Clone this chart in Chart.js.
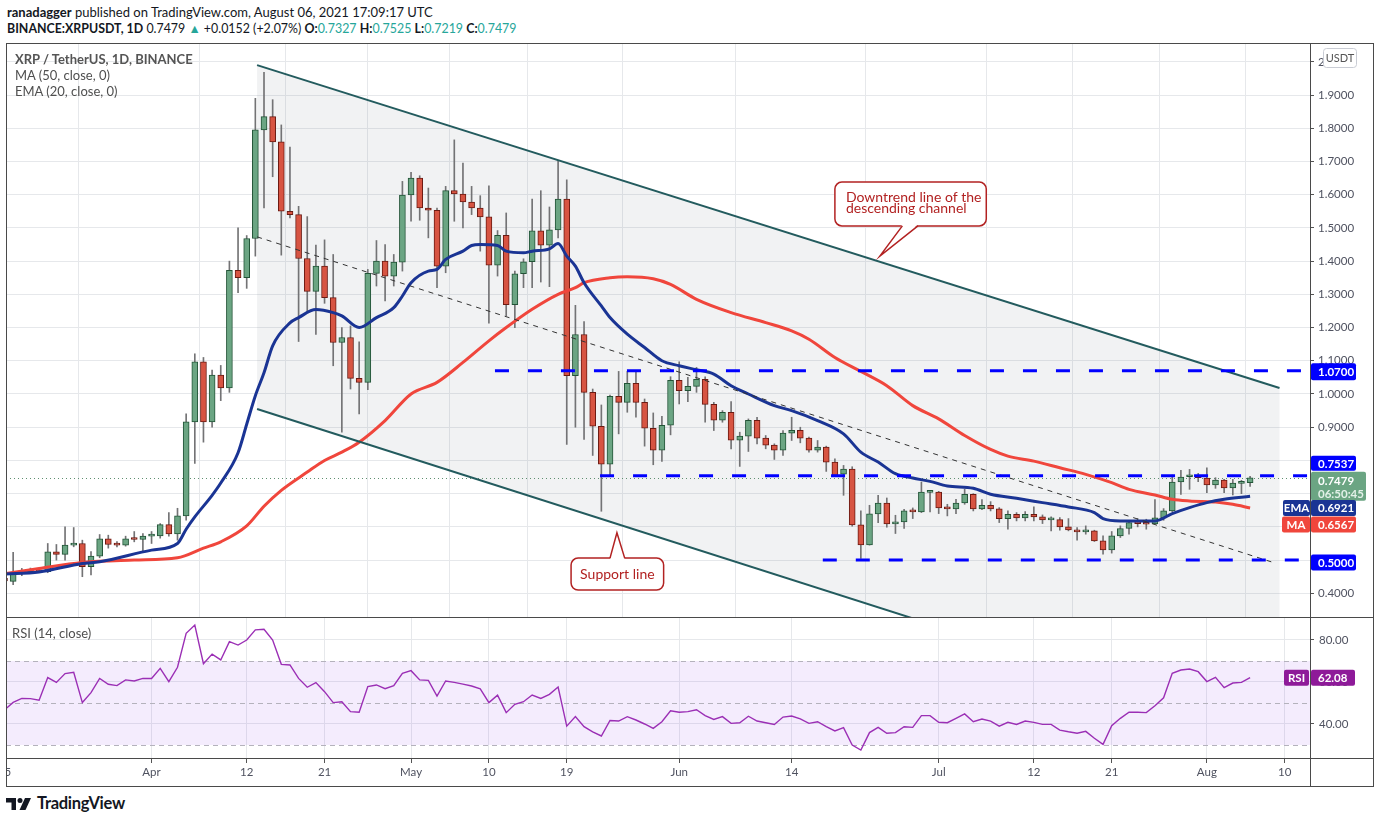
<!DOCTYPE html>
<html>
<head>
<meta charset="utf-8">
<title>XRP / TetherUS, 1D</title>
<script src="https://cdn.jsdelivr.net/npm/chart.js@4.4.1/dist/chart.umd.min.js"></script>
<style>
  html, body { margin: 0; padding: 0; background: #fff; }
  body { width: 1376px; height: 823px; overflow: hidden; position: relative; font-family: Lato, "Open Sans", sans-serif; color: #131722; }
  .txt { position: absolute; white-space: nowrap; z-index: 3; }
  #head1 { left: 7px; top: 4px; font-size: 13px; }
  #head2 { left: 7px; top: 21px; font-size: 12.4px; }
  .up { color: #26a69a; }
  .legend { left: 15px; font-size: 13px; color: #4f4f4f; }
  #pricebox { position: absolute; left: 6px; top: 43px; width: 1368px; height: 574px; }
  #rsibox { position: absolute; left: 6px; top: 617px; width: 1368px; height: 170px; }
  #frame { position: absolute; left: 0; top: 0; z-index: 4; pointer-events: none; }
  #logo { position: absolute; left: 6px; top: 796px; height: 18px; }
  #logo span { position: absolute; left: 31px; top: -3px; font-size: 16.5px; font-weight: 700; color: #131722; letter-spacing: -0.3px; }
</style>
</head>
<body>
<div id="head1" class="txt"><b>ranadagger</b> published on TradingView.com, August 06, 2021 17:09:17 UTC</div>
<div id="head2" class="txt"><b>BINANCE:XRPUSDT, 1D</b> 0.7479 <span class="up">&#9650;</span> +0.0152 (+2.07%) <b>O:</b><span class="up">0.7327</span> <b>H:</b><span class="up">0.7525</span> <b>L:</b><span class="up">0.7219</span> <b>C:</b><span class="up">0.7479</span></div>

<div id="pricebox"><canvas id="price"></canvas></div>
<div id="rsibox"><canvas id="rsi"></canvas></div>

<div class="txt legend" style="top:51px;font-weight:700;color:#555">XRP / TetherUS, 1D, BINANCE</div>
<div class="txt legend" style="top:67px">MA (50, close, 0)</div>
<div class="txt legend" style="top:83px">EMA (20, close, 0)</div>
<div class="txt legend" style="left:12px;top:625px">RSI (14, close)</div>

<svg id="frame" width="1376" height="823">
  <g stroke="#4a4a4a" stroke-width="1" fill="none" shape-rendering="crispEdges">
    <rect x="6.5" y="43.5" width="1367" height="743"/>
    <line x1="6" y1="617.5" x2="1374" y2="617.5"/>
    <line x1="6" y1="758.5" x2="1374" y2="758.5"/>
    <line x1="1310.5" y1="43" x2="1310.5" y2="787"/>
  </g>
</svg>

<div id="logo">
  <svg width="26" height="16" viewBox="0 0 26 16">
    <path d="M0 2h10v12H5.5V6.5H0z" fill="#131722"/>
    <circle cx="14" cy="4.5" r="2.5" fill="#131722"/>
    <path d="M19 2h6l-5.5 12h-6z" fill="#131722"/>
  </svg>
  <span>TradingView</span>
</div>

<script>
// daily candles, 15 Mar 2021 (index 0) to 6 Aug 2021 (index 144)
const opens = [
  0.445, 0.436, 0.459, 0.465, 0.467, 0.465, 0.525, 0.517, 0.545, 0.550,
  0.480, 0.512, 0.564, 0.547, 0.545, 0.566, 0.562, 0.572, 0.573, 0.607,
  0.579, 0.633, 0.916, 1.097, 0.916, 1.057, 1.018, 1.372, 1.350, 1.468,
  1.795, 1.835, 1.759, 1.550, 1.540, 1.408, 1.309, 1.385, 1.290, 1.155,
  1.170, 1.047, 1.035, 1.363, 1.400, 1.355, 1.397, 1.599, 1.650, 1.560,
  1.553, 1.385, 1.612, 1.602, 1.578, 1.560, 1.533, 1.388, 1.478, 1.269,
  1.362, 1.398, 1.491, 1.448, 1.494, 1.587, 1.055, 1.179, 1.005, 0.903,
  0.789, 0.993, 0.975, 1.032, 0.975, 0.897, 0.831, 0.906, 1.041, 1.010,
  1.023, 1.044, 0.969, 0.921, 0.945, 0.861, 0.873, 0.921, 0.867, 0.846,
  0.831, 0.882, 0.891, 0.867, 0.831, 0.840, 0.795, 0.759, 0.774, 0.606,
  0.546, 0.639, 0.672, 0.609, 0.615, 0.649, 0.645, 0.704, 0.705, 0.657,
  0.654, 0.672, 0.698, 0.654, 0.665, 0.654, 0.625, 0.638, 0.627, 0.638,
  0.630, 0.621, 0.622, 0.600, 0.591, 0.585, 0.588, 0.558, 0.531, 0.573,
  0.595, 0.613, 0.611, 0.609, 0.627, 0.648, 0.735, 0.751, 0.751, 0.747,
  0.726, 0.741, 0.717, 0.731, 0.7327
];
const highs = [
  0.452, 0.523, 0.475, 0.476, 0.472, 0.550, 0.547, 0.600, 0.598, 0.560,
  0.526, 0.577, 0.575, 0.556, 0.572, 0.586, 0.580, 0.586, 0.610, 0.643,
  0.656, 0.940, 1.121, 1.110, 1.072, 1.086, 1.400, 1.500, 1.477, 1.890,
  1.968, 1.886, 1.810, 1.743, 1.565, 1.534, 1.448, 1.464, 1.420, 1.200,
  1.205, 1.157, 1.375, 1.462, 1.450, 1.420, 1.640, 1.667, 1.657, 1.620,
  1.560, 1.625, 1.765, 1.695, 1.625, 1.597, 1.627, 1.492, 1.545, 1.370,
  1.407, 1.587, 1.612, 1.563, 1.703, 1.645, 1.267, 1.218, 1.015, 0.967,
  0.997, 1.068, 1.068, 1.070, 0.985, 0.943, 0.933, 1.052, 1.097, 1.050,
  1.080, 1.052, 0.975, 0.950, 0.977, 0.885, 0.925, 0.930, 0.875, 0.850,
  0.890, 0.930, 0.900, 0.870, 0.860, 0.843, 0.805, 0.785, 0.781, 0.648,
  0.665, 0.695, 0.687, 0.635, 0.653, 0.657, 0.735, 0.707, 0.707, 0.668,
  0.683, 0.713, 0.700, 0.682, 0.676, 0.658, 0.648, 0.643, 0.646, 0.660,
  0.636, 0.630, 0.628, 0.625, 0.598, 0.603, 0.590, 0.573, 0.586, 0.603,
  0.620, 0.625, 0.623, 0.682, 0.655, 0.756, 0.770, 0.773, 0.761, 0.778,
  0.748, 0.743, 0.743, 0.740, 0.7525
];
const lows = [
  0.430, 0.426, 0.453, 0.462, 0.462, 0.462, 0.500, 0.500, 0.540, 0.450,
  0.455, 0.507, 0.536, 0.540, 0.542, 0.555, 0.523, 0.550, 0.566, 0.572,
  0.560, 0.620, 0.791, 0.855, 0.900, 0.980, 1.005, 1.305, 1.318, 1.415,
  1.560, 1.654, 1.418, 1.530, 1.158, 1.250, 1.179, 1.273, 1.085, 0.885,
  1.015, 0.940, 1.013, 1.325, 1.280, 1.325, 1.370, 1.520, 1.523, 1.470,
  1.320, 1.365, 1.520, 1.500, 1.540, 1.430, 1.213, 1.355, 1.235, 1.200,
  1.320, 1.320, 1.337, 1.323, 1.470, 0.848, 0.900, 0.863, 0.815, 0.647,
  0.755, 0.880, 0.945, 0.930, 0.843, 0.787, 0.797, 0.877, 0.970, 0.977,
  1.005, 0.915, 0.890, 0.915, 0.835, 0.782, 0.827, 0.850, 0.835, 0.803,
  0.815, 0.860, 0.853, 0.825, 0.825, 0.767, 0.752, 0.695, 0.602, 0.505,
  0.545, 0.613, 0.599, 0.580, 0.595, 0.625, 0.643, 0.645, 0.640, 0.633,
  0.640, 0.668, 0.648, 0.652, 0.648, 0.613, 0.593, 0.618, 0.618, 0.618,
  0.610, 0.588, 0.590, 0.588, 0.560, 0.578, 0.556, 0.518, 0.521, 0.568,
  0.578, 0.600, 0.593, 0.608, 0.620, 0.646, 0.698, 0.713, 0.736, 0.703,
  0.716, 0.703, 0.696, 0.700, 0.7219
];
const closes = [
  0.437, 0.459, 0.465, 0.467, 0.465, 0.525, 0.517, 0.545, 0.550, 0.480,
  0.512, 0.564, 0.547, 0.545, 0.564, 0.562, 0.572, 0.573, 0.607, 0.579,
  0.633, 0.916, 1.097, 0.916, 1.057, 1.018, 1.372, 1.350, 1.468, 1.795,
  1.835, 1.759, 1.550, 1.540, 1.408, 1.309, 1.385, 1.290, 1.155, 1.170,
  1.047, 1.035, 1.363, 1.400, 1.355, 1.397, 1.599, 1.650, 1.560, 1.553,
  1.385, 1.612, 1.602, 1.578, 1.560, 1.533, 1.388, 1.478, 1.269, 1.362,
  1.398, 1.491, 1.448, 1.494, 1.587, 1.055, 1.179, 1.005, 0.903, 0.789,
  0.993, 0.975, 1.032, 0.975, 0.897, 0.831, 0.906, 1.041, 1.010, 1.023,
  1.044, 0.969, 0.921, 0.945, 0.861, 0.873, 0.921, 0.867, 0.846, 0.831,
  0.882, 0.891, 0.867, 0.831, 0.840, 0.795, 0.755, 0.774, 0.606, 0.546,
  0.639, 0.672, 0.609, 0.615, 0.648, 0.645, 0.705, 0.706, 0.657, 0.654,
  0.672, 0.698, 0.654, 0.665, 0.654, 0.625, 0.638, 0.627, 0.638, 0.630,
  0.621, 0.623, 0.600, 0.591, 0.585, 0.587, 0.558, 0.531, 0.573, 0.595,
  0.613, 0.610, 0.608, 0.627, 0.648, 0.735, 0.750, 0.753, 0.748, 0.726,
  0.741, 0.717, 0.732, 0.7327, 0.7479
];

// EMA 20 and MA 50 (day index, value)
const emaDays = [0, 4, 9, 11, 17, 20, 21, 22, 24, 25, 27, 28, 29, 30, 31, 33, 34, 36, 38, 39,
  41, 43, 45, 46, 47, 49, 50, 51, 53, 54, 55, 57, 58, 60, 61, 63, 64, 65, 66, 67,
  69, 70, 72, 74, 76, 78, 80, 82, 84, 86, 89, 91, 94, 97, 99, 101, 103, 105, 107, 109,
  112, 114, 117, 120, 123, 126, 127, 129, 131, 133, 135, 137, 139, 141, 144];
const emaValues = [0.458, 0.464, 0.490, 0.495, 0.530, 0.550, 0.593, 0.630, 0.695, 0.732, 0.823, 0.909, 0.995, 1.064, 1.145, 1.214, 1.230, 1.254, 1.245, 1.235,
  1.200, 1.230, 1.260, 1.295, 1.335, 1.370, 1.375, 1.405, 1.430, 1.447, 1.450, 1.447, 1.430, 1.425, 1.430, 1.437, 1.453, 1.415, 1.385, 1.335,
  1.265, 1.230, 1.180, 1.140, 1.100, 1.085, 1.073, 1.060, 1.025, 1.000, 0.965, 0.950, 0.920, 0.880, 0.825, 0.795, 0.760, 0.747, 0.737, 0.723,
  0.716, 0.698, 0.686, 0.673, 0.660, 0.643, 0.625, 0.618, 0.618, 0.618, 0.640, 0.658, 0.673, 0.683, 0.692];
const maDays = [0, 4, 9, 15, 20, 23, 25, 28, 30, 32, 35, 37, 39, 41, 44, 47, 50, 53, 56, 58,
  61, 64, 66, 67, 70, 72, 75, 77, 80, 84, 88, 91, 93, 96, 99, 102, 105, 108, 111, 114,
  116, 119, 122, 125, 128, 130, 133, 135, 137, 140, 142, 144];
const maValues = [0.459, 0.475, 0.493, 0.500, 0.507, 0.536, 0.555, 0.603, 0.662, 0.710, 0.765, 0.800, 0.825, 0.855, 0.920, 1.000, 1.035, 1.095, 1.160, 1.200,
  1.255, 1.300, 1.320, 1.335, 1.350, 1.353, 1.347, 1.330, 1.285, 1.245, 1.215, 1.190, 1.165, 1.110, 1.068, 1.025, 0.965, 0.925, 0.875, 0.833,
  0.813, 0.798, 0.778, 0.758, 0.733, 0.713, 0.696, 0.683, 0.678, 0.675, 0.668, 0.657];

// RSI 14, one value per day
const rsiValues = [
  46.7, 50.3, 52.2, 52.1, 51.3, 62.1, 59.8, 64.0, 64.6, 50.2,
  54.9, 61.7, 58.9, 58.3, 61.0, 60.5, 61.7, 61.7, 66.5, 60.2,
  67.0, 83.2, 87.1, 68.7, 73.3, 70.5, 79.2, 77.6, 80.0, 84.8,
  85.1, 80.0, 68.4, 68.1, 61.7, 57.5, 59.7, 55.4, 50.2, 50.6,
  45.9, 45.6, 57.8, 58.6, 56.8, 58.3, 64.1, 65.4, 61.0, 60.8,
  53.3, 60.5, 59.8, 59.0, 58.1, 56.7, 50.2, 53.7, 45.4, 49.4,
  50.6, 53.8, 52.2, 54.1, 57.6, 39.0, 43.5, 38.7, 36.3, 34.3,
  41.7, 41.4, 43.5, 41.9, 40.0, 37.9, 41.1, 46.3, 45.6, 45.9,
  46.8, 44.0, 42.2, 43.5, 40.3, 40.6, 43.7, 41.4, 40.6, 39.8,
  43.3, 43.8, 42.4, 40.3, 41.1, 38.7, 36.7, 38.3, 30.0, 27.6,
  35.9, 38.4, 35.6, 35.9, 38.7, 38.4, 44.0, 44.0, 40.8, 40.6,
  42.7, 44.8, 41.1, 42.4, 41.4, 39.0, 40.8, 39.8, 41.4, 40.8,
  39.8, 39.8, 37.1, 36.3, 35.6, 36.5, 33.2, 30.3, 39.2, 42.7,
  45.6, 45.6, 45.4, 48.7, 52.5, 64.1, 65.7, 66.2, 64.9, 60.2,
  62.2, 57.3, 59.5, 59.8, 62.08
];

// axis ticks
const tickDays = [0, 17, 28, 37, 47, 56, 65, 78, 91, 108, 119, 128, 139, 148];
const tickLabels = ['15', 'Apr', '12', '21', 'May', '10', '19', 'Jun', '14', 'Jul', '12', '21', 'Aug', '10'];
const priceTicks = [0.4, 0.5, 0.6, 0.7, 0.8, 0.9, 1.0, 1.1, 1.2, 1.3, 1.4, 1.5, 1.6, 1.7, 1.8, 1.9, 2.0];
const priceTickLabels = ['0.4000', '0.5000', '0.6000', '0.7000', '0.8000', '0.9000', '1.0000', '1.1000', '1.2000',
  '1.3000', '1.4000', '1.5000', '1.6000', '1.7000', '1.8000', '1.9000', '2'];
const rsiTicks = [40, 60, 80];

// drawings: [day index, price]
const channelTop = [[29.2, 1.990], [147.4, 1.018]];
const channelBottom = [[29.2, 0.955], [147.4, -0.028]];
const supportLine = [[29.2, 1.473], [146.9, 0.491]];
const levelPrices = [1.07, 0.7537, 0.5];
const levelStarts = [56.7, 68.85, 94.6];

const GREEN = '#6ba583', GREEN_EDGE = '#225437';
const RED = '#d75442', RED_EDGE = '#6b1a12';
const WICK = '#737375';
const EMA_COLOR = '#1a3494', MA_COLOR = '#f0463c';
const LEVEL = '#0000ff', CHANNEL = '#235b5e', CALLOUT = '#b22222';
const GRID = '#e6e8eb', AXIS_TEXT = '#4f5260';
const RSI_COLOR = '#9b2fb5', RSI_BADGE = '#8e1a99';

const xMin = 0.173, xMax = 150.925;

Chart.defaults.font.family = 'Lato, "Open Sans", sans-serif';
Chart.defaults.animation = false;

const isUp = i => closes[i] >= opens[i];

// keep the plot area flush with the canvas edges
function noPad(s) {
  s.paddingTop = 0;
  s.paddingBottom = 0;
  s.paddingLeft = 0;
  s.paddingRight = 0;
}

function badge(ctx, x, yc, w, h, bg, text) {
  ctx.fillStyle = bg;
  ctx.beginPath();
  ctx.roundRect(x, yc - h / 2, w, h, 2);
  ctx.fill();
  ctx.fillStyle = '#fff';
  ctx.font = 'bold 11.5px Lato, "Open Sans", sans-serif';
  ctx.textBaseline = 'middle';
  ctx.textAlign = 'left';
  ctx.fillText(text, x + 7, yc + 0.5);
}

function sideBadge(ctx, xRight, yc, w, h, bg, text) {
  ctx.fillStyle = bg;
  ctx.beginPath();
  ctx.roundRect(xRight - w, yc - h / 2, w, h, 2);
  ctx.fill();
  ctx.fillStyle = '#fff';
  ctx.font = 'bold 11.5px Lato, "Open Sans", sans-serif';
  ctx.textBaseline = 'middle';
  ctx.textAlign = 'center';
  ctx.fillText(text, xRight - w / 2, yc + 0.5);
}

function callout(ctx, box, tip, base, lines, textX, textY, lineH, align) {
  const [x0, y0, x1, y1] = box;
  ctx.save();
  ctx.fillStyle = '#fff';
  ctx.strokeStyle = CALLOUT;
  ctx.lineWidth = 1.5;
  ctx.beginPath();
  ctx.roundRect(x0, y0, x1 - x0, y1 - y0, 7);
  ctx.fill();
  ctx.stroke();
  const by = tip[1] > y1 ? y1 : y0;
  const inset = tip[1] > y1 ? -1.5 : 1.5;
  ctx.beginPath();
  ctx.moveTo(base[0], by + inset);
  ctx.lineTo(tip[0], tip[1]);
  ctx.lineTo(base[1], by + inset);
  ctx.closePath();
  ctx.fill();
  ctx.beginPath();
  ctx.moveTo(base[0], by);
  ctx.lineTo(tip[0], tip[1]);
  ctx.lineTo(base[1], by);
  ctx.stroke();
  ctx.fillStyle = CALLOUT;
  ctx.font = '14px Lato, "Open Sans", sans-serif';
  ctx.textBaseline = 'middle';
  ctx.textAlign = align;
  lines.forEach((t, i) => ctx.fillText(t, textX, textY + i * lineH));
  ctx.restore();
}

const drawings = {
  id: 'drawings',
  beforeDatasetsDraw(chart) {
    const { ctx, chartArea: a, scales: { x, y } } = chart;
    const X = v => x.getPixelForValue(v), Y = v => y.getPixelForValue(v);
    ctx.save();
    ctx.beginPath();
    ctx.rect(a.left, a.top, a.width, a.height);
    ctx.clip();
    // channel shading
    ctx.beginPath();
    ctx.moveTo(X(channelTop[0][0]), Y(channelTop[0][1]));
    ctx.lineTo(X(channelTop[1][0]), Y(channelTop[1][1]));
    ctx.lineTo(X(channelBottom[1][0]), Y(channelBottom[1][1]));
    ctx.lineTo(X(channelBottom[0][0]), Y(channelBottom[0][1]));
    ctx.closePath();
    ctx.fillStyle = 'rgba(120,126,140,0.10)';
    ctx.fill();
    // last price dotted line
    ctx.strokeStyle = '#5f8f70';
    ctx.lineWidth = 1;
    ctx.setLineDash([1, 3]);
    ctx.beginPath();
    const yp = Math.round(Y(closes[closes.length - 1])) + 0.5;
    ctx.moveTo(a.left, yp);
    ctx.lineTo(a.right, yp);
    ctx.stroke();
    ctx.restore();
  },
  afterDatasetsDraw(chart) {
    const { ctx, chartArea: a, scales: { x, y } } = chart;
    const X = v => x.getPixelForValue(v), Y = v => y.getPixelForValue(v);
    ctx.save();
    ctx.beginPath();
    ctx.rect(a.left, a.top, a.width, a.height);
    ctx.clip();
    // channel lines
    ctx.strokeStyle = CHANNEL;
    ctx.lineWidth = 2;
    [channelTop, channelBottom].forEach(l => {
      ctx.beginPath();
      ctx.moveTo(X(l[0][0]), Y(l[0][1]));
      ctx.lineTo(X(l[1][0]), Y(l[1][1]));
      ctx.stroke();
    });
    // support (dashed black)
    ctx.strokeStyle = '#333';
    ctx.lineWidth = 1;
    ctx.setLineDash([5, 5]);
    ctx.beginPath();
    ctx.moveTo(X(supportLine[0][0]), Y(supportLine[0][1]));
    ctx.lineTo(X(supportLine[1][0]), Y(supportLine[1][1]));
    ctx.stroke();
    // horizontal levels
    ctx.strokeStyle = LEVEL;
    ctx.lineWidth = 3;
    ctx.setLineDash([14, 19]);
    levelPrices.forEach((p, i) => {
      ctx.beginPath();
      ctx.moveTo(X(levelStarts[i]), Y(p));
      ctx.lineTo(a.right, Y(p));
      ctx.stroke();
    });
    ctx.restore();

    // callouts
    callout(ctx,
      [X(96.0), Y(1.638), X(113.5), Y(1.506)],
      [X(101.2), Y(1.415)], [X(103.8), X(105.6)],
      ['Downtrend line of the', 'descending channel'], X(96.0) + 11, Y(1.638) + 15, 11.6, 'left');
    callout(ctx,
      [X(65.5), Y(0.506), X(76.2), Y(0.410)],
      [X(70.8), Y(0.5825)], [X(70.0), X(71.7)],
      ['Support line'], (X(65.5) + X(76.2)) / 2, (Y(0.506) + Y(0.410)) / 2 + 0.5, 0, 'center');
  },
  afterDraw(chart) {
    const { ctx, chartArea: a, scales: { y } } = chart;
    const Y = v => y.getPixelForValue(v);
    const ax = a.right + 1;
    ctx.save();
    // currency badge
    ctx.fillStyle = '#fff';
    ctx.strokeStyle = '#c9ccd4';
    ctx.lineWidth = 1;
    ctx.beginPath();
    ctx.roundRect(ax + 12.5, 5.5, 33, 19, 3);
    ctx.fill();
    ctx.stroke();
    ctx.fillStyle = '#555';
    ctx.font = '11px Lato, "Open Sans", sans-serif';
    ctx.textAlign = 'center';
    ctx.textBaseline = 'middle';
    ctx.fillText('USDT', ax + 29, 15.5);

    badge(ctx, ax, Y(1.07) + 1, 45, 17, LEVEL, '1.0700');
    badge(ctx, ax, Y(0.7537) - 12.5, 45, 15, LEVEL, '0.7537');
    // last price with countdown
    const yl = Y(closes[closes.length - 1]);
    ctx.fillStyle = GREEN;
    ctx.beginPath();
    ctx.roundRect(ax, yl - 6, 55, 29, 2);
    ctx.fill();
    ctx.font = 'bold 11.5px Lato, "Open Sans", sans-serif';
    ctx.textAlign = 'left';
    ctx.fillStyle = '#fff';
    ctx.fillText('0.7479', ax + 7, yl + 3.5);
    ctx.fillStyle = '#e3f1e8';
    ctx.fillText('06:50:45', ax + 7, yl + 16.5);

    const ye = Y(emaValues[emaValues.length - 1]) + 11.7;
    sideBadge(ctx, ax - 1, ye, 27, 16, EMA_COLOR, 'EMA');
    badge(ctx, ax, ye, 45, 16, EMA_COLOR, '0.6921');
    const ym = Y(maValues[maValues.length - 1]) + 16.5;
    sideBadge(ctx, ax - 1, ym, 28, 16, MA_COLOR, 'MA');
    badge(ctx, ax, ym, 45, 16, MA_COLOR, '0.6567');
    badge(ctx, ax, Y(0.5) + 2.5, 45, 16, LEVEL, '0.5000');
    ctx.restore();
  }
};

new Chart(document.getElementById('price'), {
  type: 'bar',
  data: {
    datasets: [
      {
        label: 'wick',
        data: lows.map((l, i) => ({ x: i, y: [l, highs[i]] })),
        backgroundColor: WICK,
        barThickness: 1,
        grouped: false,
        order: 4
      },
      {
        label: 'XRPUSDT',
        data: opens.map((o, i) => ({ x: i, y: [o, closes[i]] })),
        backgroundColor: c => isUp(c.dataIndex) ? GREEN : RED,
        borderColor: c => isUp(c.dataIndex) ? GREEN_EDGE : RED_EDGE,
        borderWidth: 1,
        borderSkipped: false,
        barThickness: 6,
        minBarLength: 2,
        grouped: false,
        order: 3
      },
      {
        type: 'line',
        label: 'MA (50, close, 0)',
        data: maDays.map((d, i) => ({ x: d, y: maValues[i] })),
        borderColor: MA_COLOR,
        borderWidth: 3,
        pointRadius: 0,
        cubicInterpolationMode: 'monotone',
        order: 2
      },
      {
        type: 'line',
        label: 'EMA (20, close, 0)',
        data: emaDays.map((d, i) => ({ x: d, y: emaValues[i] })),
        borderColor: EMA_COLOR,
        borderWidth: 3,
        pointRadius: 0,
        cubicInterpolationMode: 'monotone',
        order: 1
      }
    ]
  },
  options: {
    responsive: true,
    maintainAspectRatio: false,
    events: [],
    layout: { padding: 0, autoPadding: false },
    plugins: { legend: { display: false }, tooltip: { enabled: false } },
    scales: {
      x: {
        type: 'linear', min: xMin, max: xMax, offset: false, bounds: 'data',
        afterBuildTicks: s => { s.ticks = tickDays.map(v => ({ value: v })); },
        ticks: { display: false },
        grid: { color: GRID, drawTicks: false },
        border: { display: false },
        afterFit: s => { s.height = 0; noPad(s); }
      },
      y: {
        type: 'linear', position: 'right', min: 0.3287, max: 2.0566, bounds: 'data',
        afterBuildTicks: s => { s.ticks = priceTicks.map(v => ({ value: v })); },
        ticks: {
          callback: (v, i) => priceTickLabels[i],
          color: AXIS_TEXT, font: { size: 11.5 }, padding: 4
        },
        grid: { color: GRID, tickColor: '#555', tickLength: 4 },
        border: { display: false },
        afterFit: s => { s.width = 64; noPad(s); }
      }
    }
  },
  plugins: [drawings]
});

const rsiPane = {
  id: 'rsiPane',
  beforeDatasetsDraw(chart) {
    const { ctx, chartArea: a, scales: { y } } = chart;
    ctx.save();
    ctx.fillStyle = 'rgba(150,70,235,0.10)';
    ctx.fillRect(a.left, y.getPixelForValue(70), a.width, y.getPixelForValue(30) - y.getPixelForValue(70));
    ctx.strokeStyle = '#b4b2bc';
    ctx.lineWidth = 1;
    ctx.setLineDash([5, 4]);
    [70, 50, 30].forEach(v => {
      const yy = Math.round(y.getPixelForValue(v)) + 0.5;
      ctx.beginPath();
      ctx.moveTo(a.left, yy);
      ctx.lineTo(a.right, yy);
      ctx.stroke();
    });
    ctx.restore();
  },
  afterDraw(chart) {
    const { ctx, chartArea: a, scales: { y } } = chart;
    const ax = a.right + 1;
    const yr = y.getPixelForValue(rsiValues[rsiValues.length - 1]);
    sideBadge(ctx, ax - 2, yr, 25, 16, RSI_BADGE, 'RSI');
    badge(ctx, ax, yr, 44, 16, RSI_BADGE, '62.08');
  }
};

new Chart(document.getElementById('rsi'), {
  type: 'line',
  data: {
    datasets: [{
      label: 'RSI (14, close)',
      data: rsiValues.map((v, i) => ({ x: i, y: v })),
      borderColor: RSI_COLOR,
      borderWidth: 1.4,
      pointRadius: 0,
      tension: 0
    }]
  },
  options: {
    responsive: true,
    maintainAspectRatio: false,
    events: [],
    layout: { padding: 0, autoPadding: false },
    plugins: { legend: { display: false }, tooltip: { enabled: false } },
    scales: {
      x: {
        type: 'linear', min: xMin, max: xMax, offset: false, bounds: 'data',
        afterBuildTicks: s => { s.ticks = tickDays.map(v => ({ value: v })); },
        ticks: {
          callback: (v, i) => tickLabels[i],
          autoSkip: false, maxRotation: 0, color: AXIS_TEXT, font: { size: 11.5 }, padding: 2
        },
        grid: { color: GRID, tickColor: '#555', tickLength: 5 },
        border: { display: false },
        afterFit: s => { s.height = 29; noPad(s); }
      },
      y: {
        type: 'linear', position: 'right', min: 23.81, max: 90.95, bounds: 'data',
        afterBuildTicks: s => { s.ticks = rsiTicks.map(v => ({ value: v })); },
        ticks: {
          callback: v => v.toFixed(2),
          color: AXIS_TEXT, font: { size: 11.5 }, padding: 5
        },
        grid: { color: GRID, tickColor: '#555', tickLength: 4 },
        border: { display: false },
        afterFit: s => { s.width = 64; noPad(s); }
      }
    }
  },
  plugins: [rsiPane]
});
</script>
</body>
</html>
